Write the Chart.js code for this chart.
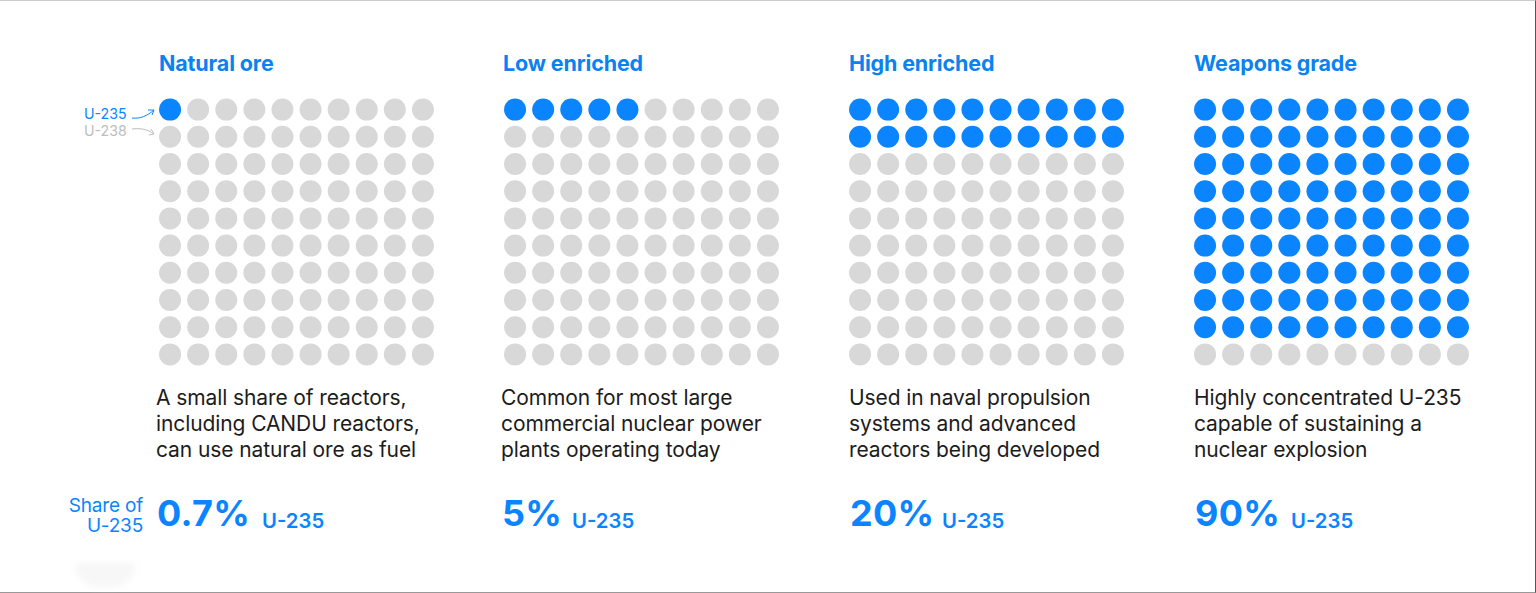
<!DOCTYPE html>
<html>
<head>
<meta charset="utf-8">
<title>Uranium enrichment levels</title>
<script src="https://cdn.jsdelivr.net/npm/chart.js@4"></script>
<style>
  html, body { margin: 0; padding: 0; background: #fff; overflow: hidden; }
  #page { position: relative; width: 1536px; height: 593px; font-family: Inter, "Noto Sans", sans-serif; box-sizing: border-box;
    border-top: 1px solid #ccc; border-bottom: 1px solid #999; border-right: 1px solid #555; }
  .abs { position: absolute; white-space: nowrap; }
  .panel-canvas { position: absolute; width: 303px; height: 294px; }
  .title { font-size: 21.5px; font-weight: 700; color: #0a82f0; letter-spacing: -0.15px; }
  .desc { font-size: 21px; line-height: 26px; color: #1c1c1c; letter-spacing: -0.1px; }
  .pct { font-size: 36px; font-weight: 700; color: #0a84ff; letter-spacing: 0.3px; }
  .unit { font-size: 20.3px; font-weight: 600; color: #0a84ff; }
  .key { font-size: 14.2px; }
  .share { font-size: 19px; line-height: 20px; color: #0a84ff; text-align: right; letter-spacing: -0.2px; }
  .smudge { position: absolute; left: 74px; top: 562px; width: 62px; height: 24px; background: #f7f7f7; border-radius: 0 0 30px 30px; filter: blur(3px); }
</style>
</head>
<body>
<div id="page">
  <div class="smudge"></div>
  <div class="abs share" style="right:1392px;top:495px">Share of<br>U-235</div>
  <div class="abs key" style="left:84px;top:104px;color:#0a84ff">U-235</div>
  <div class="abs key" style="left:84px;top:121px;color:#bdbdbd">U-238</div>
  <svg class="abs" style="left:128px;top:100px" width="32" height="40" fill="none">
    <path d="M4 17 C12 18 19 15 26 9 M20 9 L26 9 L24 14" stroke="#0a84ff" stroke-width="1"/>
    <path d="M4 28 C12 27 19 28 26 33 M21 34 L26 33 L23 28" stroke="#bdbdbd" stroke-width="1"/>
  </svg>
</div>
<script>
const categories = ['Natural ore', 'Low enriched', 'High enriched', 'Weapons grade'];
const blueDots = [1, 5, 20, 90];
const shareLabels = ['0.7%', '5%', '20%', '90%'];
const descriptions = [
  ['A small share of reactors,', 'including CANDU reactors,', 'can use natural ore as fuel'],
  ['Common for most large', 'commercial nuclear power', 'plants operating today'],
  ['Used in naval propulsion', 'systems and advanced', 'reactors being developed'],
  ['Highly concentrated U-235', 'capable of sustaining a', 'nuclear explosion']
];
const unitLabel = 'U-235';
const gridSize = 10;

const panelLeft = [145, 490, 835, 1180];
const titleLeft = [159, 503, 849, 1194];
const descLeft = [156, 501, 849, 1194];
const pctLeft = [157, 502, 850, 1195];
const unitLeft = [262, 572, 942, 1291];

const page = document.getElementById('page');

function addText(cls, left, top, html) {
  const el = document.createElement('div');
  el.className = 'abs ' + cls;
  el.style.left = left + 'px';
  el.style.top = top + 'px';
  el.innerHTML = html;
  page.appendChild(el);
}

// One scatter chart per panel, first n dots (row by row) are U-235
function createWaffle(i) {
  const canvas = document.createElement('canvas');
  canvas.className = 'panel-canvas';
  canvas.width = 303;
  canvas.height = 294;
  canvas.style.left = panelLeft[i] + 'px';
  canvas.style.top = '84px';
  page.appendChild(canvas);
  const dots = [];
  const colors = [];
  for (let row = 0; row < gridSize; row++) {
    for (let col = 0; col < gridSize; col++) {
      dots.push({ x: col, y: row });
      colors.push(row * gridSize + col < blueDots[i] ? '#0a84ff' : '#d8d8d8');
    }
  }
  return new Chart(canvas.getContext('2d'), {
    type: 'scatter',
    data: {
      datasets: [{
        label: categories[i],
        data: dots,
        backgroundColor: colors,
        borderWidth: 0,
        pointRadius: 11,
        pointHoverRadius: 11
      }]
    },
    options: {
      responsive: false,
      animation: false,
      layout: { padding: 0 },
      plugins: { legend: { display: false }, tooltip: { enabled: false } },
      scales: {
        x: { type: 'linear', display: false, min: -0.5, max: 9.5 },
        y: { type: 'linear', display: false, min: -0.5, max: 9.5, reverse: true }
      }
    }
  });
}

categories.forEach((name, i) => {
  createWaffle(i);
  addText('title', titleLeft[i], 49, name);
  addText('desc', descLeft[i], 384, descriptions[i].join('<br>'));
  addText('pct', pctLeft[i], 490, shareLabels[i]);
  addText('unit', unitLeft[i], 507, unitLabel);
});
</script>
</body>
</html>
